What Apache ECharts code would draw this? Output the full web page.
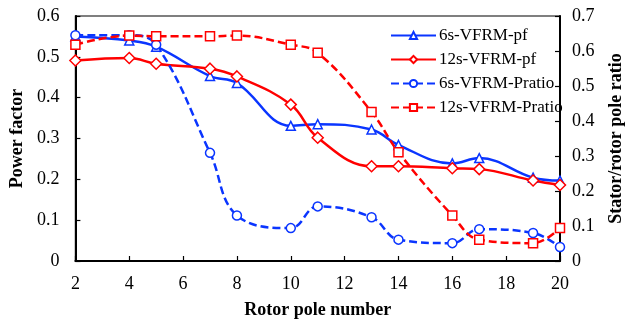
<!DOCTYPE html>
<html>
<head>
<meta charset="utf-8">
<script src="https://cdn.jsdelivr.net/npm/echarts@6/dist/echarts.min.js"></script>
<style>
html,body{margin:0;padding:0;background:#fff;}
#chart{width:633px;height:324px;}
</style>
</head>
<body>
<div id="chart"></div>
<script>
var rotorPoles = [2, 4, 5, 7, 8, 10, 11, 13, 14, 16, 17, 19, 20];
var pf6s = [0.550, 0.540, 0.525, 0.453, 0.436, 0.331, 0.335, 0.322, 0.284, 0.239, 0.252, 0.204, 0.197];
var pf12s = [0.491, 0.497, 0.483, 0.471, 0.452, 0.383, 0.302, 0.232, 0.232, 0.227, 0.225, 0.197, 0.186];
var pratio6s = [0.645, 0.645, 0.618, 0.309, 0.130, 0.094, 0.156, 0.125, 0.061, 0.051, 0.091, 0.080, 0.040];
var pratio12s = [0.618, 0.644, 0.642, 0.642, 0.644, 0.618, 0.595, 0.426, 0.311, 0.130, 0.061, 0.051, 0.094];
var seriesNames = ['6s-VFRM-pf', '12s-VFRM-pf', '6s-VFRM-Pratio', '12s-VFRM-Pratio'];
var axisNames = { x: 'Rotor pole number', yLeft: 'Power factor', yRight: 'Stator/rotor pole ratio' };

function pairs(vals) { return rotorPoles.map(function (x, i) { return [x, vals[i]]; }); }

var FONT = '"Liberation Serif", "Times New Roman", serif';
var BLUE = '#0a35ff';
var RED = '#ff0000';

function mkSeries(name, vals, color, symbol, size, dashed, yIdx) {
  return {
    name: name,
    type: 'line',
    yAxisIndex: yIdx,
    data: pairs(vals),
    smooth: 0.4,
    symbol: symbol,
    symbolSize: size,
    showAllSymbol: true,
    lineStyle: { color: color, width: 2.5, type: dashed ? [8, 4] : 'solid' },
    itemStyle: { color: '#ffffff', borderColor: color, borderWidth: 1.5 },
    emphasis: { disabled: true },
    animation: false
  };
}

var chart = echarts.init(document.getElementById('chart'), null, { renderer: 'canvas' });
chart.setOption({
  animation: false,
  backgroundColor: '#ffffff',
  textStyle: { fontFamily: FONT },
  grid: { left: 73, right: 66, top: 16, bottom: 61, show: true, borderColor: '#000', borderWidth: 1.2, backgroundColor: 'transparent' },
  legend: {
    orient: 'vertical',
    left: 385,
    top: 22,
    itemWidth: 45,
    itemHeight: 9,
    itemGap: 7,
    data: seriesNames,
    textStyle: { fontFamily: FONT, fontSize: 17, color: '#000', padding: [0, 0, 0, -2] }
  },
  xAxis: {
    type: 'value',
    min: 2, max: 20, interval: 2,
    name: axisNames.x,
    nameLocation: 'middle',
    nameGap: 40,
    nameTextStyle: { fontFamily: FONT, fontSize: 18, fontWeight: 'bold', color: '#000' },
    axisLine: { show: true, lineStyle: { color: '#000', width: 2 } },
    axisTick: { show: true, inside: true, length: 5, lineStyle: { color: '#000', width: 1.2 } },
    axisLabel: { fontFamily: FONT, fontSize: 18, color: '#000', margin: 14 },
    splitLine: { show: false }
  },
  yAxis: [{
    type: 'value',
    position: 'left',
    min: 0, max: 0.6, interval: 0.1,
    name: axisNames.yLeft,
    nameLocation: 'middle',
    nameGap: 46,
    nameRotate: 90,
    nameTextStyle: { fontFamily: FONT, fontSize: 18, fontWeight: 'bold', color: '#000' },
    axisLine: { show: true, lineStyle: { color: '#000', width: 2 } },
    axisTick: { show: true, inside: true, length: 5, lineStyle: { color: '#000', width: 1.2 } },
    axisLabel: { fontFamily: FONT, fontSize: 18, color: '#000', margin: 16 },
    splitLine: { show: false }
  }, {
    type: 'value',
    position: 'right',
    min: 0, max: 0.7, interval: 0.1,
    name: axisNames.yRight,
    nameLocation: 'middle',
    nameGap: 47,
    nameRotate: 90,
    nameTextStyle: { fontFamily: FONT, fontSize: 18, fontWeight: 'bold', color: '#000' },
    axisLine: { show: true, lineStyle: { color: '#000', width: 2 } },
    axisTick: { show: true, inside: true, length: 5, lineStyle: { color: '#000', width: 1.2 } },
    axisLabel: { fontFamily: FONT, fontSize: 18, color: '#000', margin: 12 },
    splitLine: { show: false }
  }],
  series: [
    mkSeries(seriesNames[0], pf6s, BLUE, 'triangle', 9, false, 0),
    mkSeries(seriesNames[1], pf12s, RED, 'diamond', 11, false, 0),
    mkSeries(seriesNames[2], pratio6s, BLUE, 'circle', 9, true, 1),
    mkSeries(seriesNames[3], pratio12s, RED, 'rect', 9, true, 1)
  ]
});
</script>
</body>
</html>
